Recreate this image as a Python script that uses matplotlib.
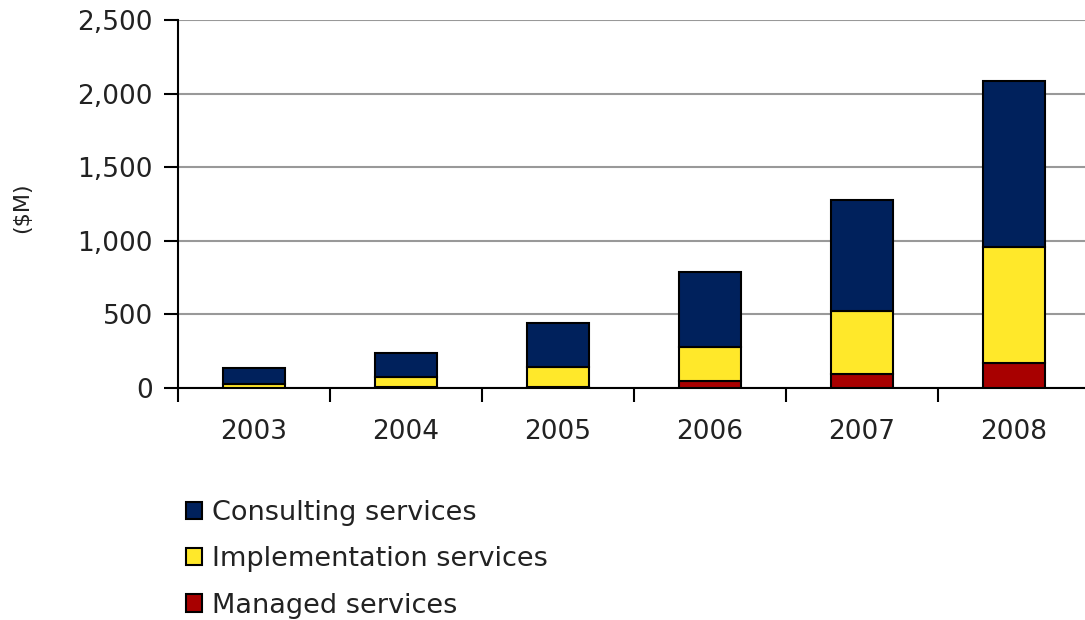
import matplotlib
matplotlib.use("Agg")
import matplotlib.pyplot as plt
from matplotlib.ticker import FuncFormatter, FixedLocator
import numpy as np

years = ["2003", "2004", "2005", "2006", "2007", "2008"]
managed = [2, 5, 10, 48, 93, 170]
implementation = [28, 70, 135, 230, 430, 785]
consulting = [107, 165, 298, 507, 754, 1130]

c_cons = "#00215C"
c_impl = "#FFE82A"
c_man = "#A80000"

fig = plt.figure(figsize=(10.85, 6.2), dpi=100)
ax = fig.add_axes([178 / 1085, 1 - 388 / 620, 912 / 1085, 368 / 620])

x = np.arange(len(years))
w = 0.41
b1 = np.array(managed)
b2 = b1 + np.array(implementation)
ax.bar(x, managed, w, color=c_man, edgecolor="black", linewidth=1.5, label="Managed services", zorder=3)
ax.bar(x, implementation, w, bottom=b1, color=c_impl, edgecolor="black", linewidth=1.5,
       label="Implementation services", zorder=3)
ax.bar(x, consulting, w, bottom=b2, color=c_cons, edgecolor="black", linewidth=1.5,
       label="Consulting services", zorder=3)

ax.set_xlim(-0.5, 5.5)
ax.set_ylim(0, 2500)
ax.set_yticks(range(0, 2501, 500))
ax.yaxis.set_major_formatter(FuncFormatter(lambda v, p: f"{int(v):,}"))
ax.yaxis.grid(True, color="#999999", linewidth=1.5, zorder=0)

ax.xaxis.set_major_locator(FixedLocator(np.arange(-0.5, 5.6, 1)))
ax.xaxis.set_major_formatter(FuncFormatter(lambda v, p: ""))
ax.set_xticks(x, minor=True)
ax.set_xticklabels(years, minor=True)
ax.tick_params(axis="x", which="minor", length=0, pad=22, labelsize=19, labelcolor="#222222")
ax.tick_params(axis="x", which="major", length=10, width=1.5, direction="out")
ax.tick_params(axis="y", length=10, width=1.5, direction="out", labelsize=19,
               labelcolor="#222222", pad=8)

for s in ["top", "right"]:
    ax.spines[s].set_visible(False)
ax.spines["left"].set_linewidth(1.5)
ax.spines["bottom"].set_linewidth(1.5)

fig.text(22 / 1085, 1 - 208 / 620, "($M)", rotation=90, fontsize=16, color="#222222",
         ha="center", va="center")

h, l = ax.get_legend_handles_labels()
fig.legend(h[::-1], l[::-1], loc="upper left", bbox_to_anchor=(186 / 1085, 1 - 500 / 620),
           frameon=False, fontsize=19.5, handlelength=0.6, handleheight=0.6,
           handletextpad=0.35, labelspacing=0.75, borderaxespad=0, borderpad=0,
           labelcolor="#222222")

fig.savefig("out.png", dpi=100)
